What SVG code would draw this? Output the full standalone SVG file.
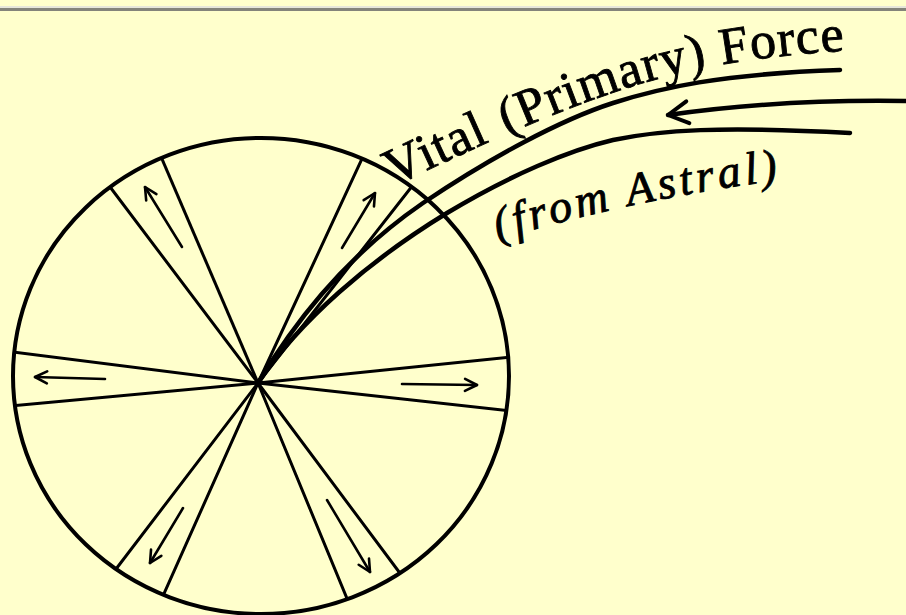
<svg xmlns="http://www.w3.org/2000/svg" width="906" height="615" viewBox="0 0 906 615">
  <style>
    .ln { fill: none; stroke: #000; stroke-linecap: round; stroke-linejoin: round; }
    .spoke { stroke-width: 3; }
    .arr { stroke-width: 2.6; }
    .force { stroke-width: 4.5; }
    .lbl { font-family: "Liberation Serif", "DejaVu Serif", serif; fill: #000; stroke: #000; stroke-width: 0.9; }
    .big { font-size: 52px; letter-spacing: 1.2px; }
  </style>
  <defs>
    <marker id="head" viewBox="-14 -8 16 16" markerWidth="16" markerHeight="16" refX="0" refY="0" orient="auto" markerUnits="userSpaceOnUse">
      <path d="M -12,-6 L 0,0 L -12,6" fill="none" stroke="#000" stroke-width="2.6" stroke-linecap="round" stroke-linejoin="round"/>
    </marker>
    <marker id="bighead" viewBox="-24 -14 28 28" markerWidth="28" markerHeight="28" refX="0" refY="0" orient="auto" markerUnits="userSpaceOnUse">
      <path d="M -20,-11 L 0,0 L -20,11" fill="none" stroke="#000" stroke-width="4" stroke-linecap="round" stroke-linejoin="round"/>
    </marker>
    <clipPath id="disc">
      <ellipse cx="261" cy="376" rx="248" ry="238"/>
    </clipPath>
    <path id="vitalPath" d="M394,186 C 470,150 560,108 640,84 C 700,66 760,56 856,50"/>
    <path id="astralPath" d="M498,240 Q 640,197 796,178"/>
  </defs>

  <rect x="0" y="0" width="906" height="615" fill="#FFFFCC"/>
  <rect x="0" y="6" width="906" height="2" fill="#E6E6DA"/>
  <rect x="0" y="8" width="906" height="3" fill="#84847A"/>

  <g id="wheel">
    <ellipse cx="261" cy="376" rx="248" ry="238" class="ln" stroke-width="4"/>
    <g clip-path="url(#disc)" class="ln spoke">
      <line x1="258" y1="383" x2="98" y2="171"/>
      <line x1="258" y1="383" x2="150" y2="131"/>
      <line x1="258" y1="383" x2="373" y2="135"/>
      <line x1="258" y1="383" x2="431" y2="162"/>
      <line x1="258" y1="383" x2="-10" y2="349"/>
      <line x1="258" y1="383" x2="-10" y2="408"/>
      <line x1="258" y1="383" x2="530" y2="355"/>
      <line x1="258" y1="383" x2="530" y2="413"/>
      <line x1="258" y1="383" x2="100" y2="590"/>
      <line x1="258" y1="383" x2="150" y2="625"/>
      <line x1="258" y1="383" x2="360" y2="630"/>
      <line x1="258" y1="383" x2="420" y2="600"/>
    </g>
  </g>

  <g id="spoke-arrows" class="ln arr">
    <line x1="182" y1="247" x2="145" y2="187" marker-end="url(#head)"/>
    <line x1="342" y1="248" x2="375" y2="193" marker-end="url(#head)"/>
    <line x1="105" y1="379" x2="35" y2="377" marker-end="url(#head)"/>
    <line x1="402" y1="384" x2="477" y2="385" marker-end="url(#head)"/>
    <line x1="183" y1="508" x2="150" y2="563" marker-end="url(#head)"/>
    <line x1="327" y1="500" x2="370" y2="572" marker-end="url(#head)"/>
  </g>

  <g id="connectors" class="ln force">
    <path d="M258,383 C290,330 340,260 423,203 C 490,158 560,120 613,103 C 660,88 720,74 840,70"/>
    <path d="M258,383 C300,320 370,260 447,213 C 510,175 570,150 613,140 C 660,130 720,126 850,133"/>
    <path d="M906,101 Q 780,99 668,115" marker-end="url(#bighead)"/>
  </g>

  <g id="label-vital">
    <text class="lbl big"><textPath href="#vitalPath" startOffset="0">Vital</textPath></text>
    <text class="lbl big"><textPath href="#vitalPath" startOffset="124">(Primary)</textPath></text>
    <text class="lbl big"><textPath href="#vitalPath" startOffset="351">Force</textPath></text>
  </g>
  <g id="label-astral">
    <text class="lbl" font-size="46" font-style="italic" letter-spacing="4"><textPath href="#astralPath">(from Astral)</textPath></text>
  </g>
</svg>
